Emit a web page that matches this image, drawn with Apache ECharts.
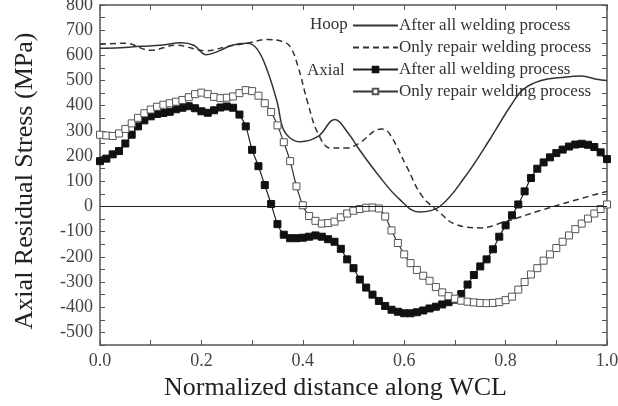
<!DOCTYPE html>
<html>
<head>
<meta charset="utf-8">
<script src="https://cdn.jsdelivr.net/npm/echarts@6/dist/echarts.min.js"></script>
<style>
  html, body { margin: 0; padding: 0; background: #fff; }
  #chart { width: 618px; height: 406px; }
</style>
</head>
<body>
<div id="chart"></div>
<script>
// hoop stress, [x, MPa]
const hoopAll = [
  [0, 628], [0.04, 630], [0.08, 636], [0.12, 640], [0.16, 650], [0.185, 640], [0.21, 602],
  [0.235, 618], [0.26, 640], [0.29, 648], [0.31, 625], [0.33, 540], [0.35, 410], [0.36, 315],
  [0.375, 272], [0.395, 257], [0.43, 278], [0.463, 345], [0.49, 290], [0.51, 230], [0.55, 122],
  [0.59, 30], [0.63, -22], [0.67, 0], [0.72, 118], [0.77, 270], [0.81, 400], [0.835, 465],
  [0.87, 500], [0.91, 512], [0.95, 518], [0.98, 505], [1.0, 500]
]
const hoopRepair = [
  [0, 644], [0.05, 648], [0.1, 620], [0.15, 640], [0.21, 618], [0.25, 635], [0.29, 648],
  [0.33, 663], [0.36, 655], [0.375, 635], [0.39, 560], [0.41, 410], [0.43, 290], [0.455, 232],
  [0.485, 232], [0.51, 250], [0.555, 308], [0.57, 292], [0.605, 158], [0.635, 42], [0.67, -24],
  [0.7, -70], [0.75, -85], [0.795, -63], [0.865, -18], [0.93, 21], [1.0, 60]
]

// axial stress, sampled positions along WCL
const axialX = [
  0, 0.0125, 0.025, 0.0375, 0.05, 0.0625, 0.075, 0.0875, 0.1, 0.1125, 0.125, 0.1375, 0.15, 0.1625,
  0.175, 0.1875, 0.2, 0.2125, 0.225, 0.2375, 0.25, 0.2625, 0.275, 0.2875, 0.3, 0.3125, 0.325, 0.3375,
  0.35, 0.3625, 0.375, 0.3875, 0.4, 0.4125, 0.425, 0.4375, 0.45, 0.4625, 0.475, 0.4875, 0.5, 0.5125,
  0.525, 0.5375, 0.55, 0.5625, 0.575, 0.5875, 0.6, 0.6125, 0.625, 0.6375, 0.65, 0.6625, 0.675, 0.6875,
  0.7, 0.7125, 0.725, 0.7375, 0.75, 0.7625, 0.775, 0.7875, 0.8, 0.8125, 0.825, 0.8375, 0.85, 0.8625,
  0.875, 0.8875, 0.9, 0.9125, 0.925, 0.9375, 0.95, 0.9625, 0.975, 0.9875, 1.0
]
const axialAll = [
  180, 190, 207, 220, 250, 285, 318, 342, 358, 367, 371, 376, 386, 392,
  398, 390, 378, 372, 382, 393, 397, 392, 365, 318, 225, 160, 85, 10,
  -70, -112, -126, -126, -124, -120, -115, -120, -130, -140, -168, -210, -245, -290,
  -322, -350, -375, -395, -410, -418, -424, -424, -420, -413, -405, -398, -389, -380,
  -370, -348, -310, -272, -238, -210, -170, -120, -75, -35, 8, 60, 113, 150,
  175, 195, 212, 226, 238, 246, 249, 245, 236, 215, 188
]
const axialRepair = [
  285, 282, 280, 290, 308, 330, 352, 370, 385, 396, 404, 410, 416, 423,
  434, 446, 452, 446, 435, 430, 432, 437, 450, 462, 458, 440, 410, 375,
  322, 255, 180, 80, 5, -38, -57, -68, -66, -60, -43, -28, -17, -10,
  -5, -4, -8, -40, -95, -145, -190, -225, -252, -275, -295, -320, -341, -356,
  -366, -374, -378, -381, -383, -384, -383, -380, -372, -358, -330, -300, -270, -245,
  -215, -190, -165, -140, -115, -90, -68, -48, -28, -10, 8
]

const seriesNames = [
  'After all welding process',
  'Only repair welding process',
  'After all welding process ',
  'Only repair welding process '
]

const FONT = 'Liberation Serif'
const INK = '#333'

function pairs(xs, ys) {
  return xs.map((x, i) => [x, ys[i]])
}

const frame = { show: true, onZero: false, lineStyle: { color: '#555', width: 1.5 } }
const ticks = { inside: true, length: 5, lineStyle: { color: '#555' } }

const chart = echarts.init(document.getElementById('chart'))
chart.setOption({
  animation: false,
  backgroundColor: '#fff',
  grid: { left: 100, right: 11, top: 5, bottom: 61, outerBoundsMode: 'none', containLabel: false },
  legend: {
    left: 352, top: 17, orient: 'vertical', padding: 0,
    itemWidth: 45, itemHeight: 7, itemGap: 5,
    textStyle: { fontFamily: FONT, fontSize: 17, color: INK, padding: [0, 0, 0, -4] },
    data: [
      { name: seriesNames[0], itemStyle: { opacity: 0 } },
      { name: seriesNames[1], itemStyle: { opacity: 0 } },
      seriesNames[2],
      seriesNames[3]
    ]
  },
  graphic: [
    { type: 'text', left: 310, top: 16, style: { text: 'Hoop', font: '17px "Liberation Serif"', fill: INK } },
    { type: 'text', left: 307, top: 62, style: { text: 'Axial', font: '17px "Liberation Serif"', fill: INK } }
  ],
  xAxis: [{
    type: 'value', min: 0, max: 1, interval: 0.1,
    name: 'Normalized distance along WCL', nameLocation: 'middle', nameGap: 25,
    nameTextStyle: { fontFamily: FONT, fontSize: 26, color: '#222', padding: [0, 36, 0, 0] },
    axisLine: frame, axisTick: ticks,
    axisLabel: {
      margin: 7, fontFamily: FONT, fontSize: 18, color: '#444',
      formatter: v => Math.round(v * 10) % 2 === 0 ? v.toFixed(1) : ''
    },
    splitLine: { show: false }
  }, {
    type: 'value', position: 'top', min: 0, max: 1, interval: 0.1,
    axisLine: frame, axisTick: ticks,
    axisLabel: { show: false }, splitLine: { show: false }
  }],
  yAxis: [{
    type: 'value', min: -550, max: 800, interval: 50,
    name: 'Axial Residual Stress (MPa)', nameLocation: 'middle', nameGap: 62,
    nameTextStyle: { fontFamily: FONT, fontSize: 26, color: '#222', padding: [0, 12, 0, 0] },
    axisLine: frame, axisTick: ticks,
    axisLabel: {
      margin: 7, fontFamily: FONT, fontSize: 18, color: '#444',
      formatter: v => v % 100 === 0 ? String(v) : ''
    },
    splitLine: { show: false }
  }, {
    type: 'value', position: 'right', min: -550, max: 800, interval: 50,
    axisLine: frame, axisTick: ticks,
    axisLabel: { show: false }, splitLine: { show: false }
  }],
  series: [{
    name: seriesNames[0], type: 'line', data: hoopAll, smooth: 0.4, showSymbol: false,
    symbol: 'none', color: '#333',
    lineStyle: { color: '#333', width: 1.5 },
    markLine: {
      silent: true, symbol: 'none', label: { show: false },
      lineStyle: { color: '#222', width: 1.2, type: 'solid' },
      data: [{ yAxis: 0 }]
    }
  }, {
    name: seriesNames[1], type: 'line', data: hoopRepair, smooth: 0.4, showSymbol: false,
    symbol: 'none', color: '#333',
    lineStyle: { color: '#333', width: 1.5, type: [6, 4] }
  }, {
    name: seriesNames[2], type: 'line', data: pairs(axialX, axialAll), smooth: 0.3,
    symbol: 'rect', symbolSize: 7, color: '#111',
    itemStyle: { color: '#111', borderColor: '#111', borderWidth: 1 },
    lineStyle: { color: '#222', width: 1.2 }
  }, {
    name: seriesNames[3], type: 'line', data: pairs(axialX, axialRepair), smooth: 0.3,
    symbol: 'rect', symbolSize: 7, color: '#555',
    itemStyle: { color: '#fff', borderColor: '#555', borderWidth: 1 },
    lineStyle: { color: '#333', width: 1.2 }
  }]
})
</script>
</body>
</html>
